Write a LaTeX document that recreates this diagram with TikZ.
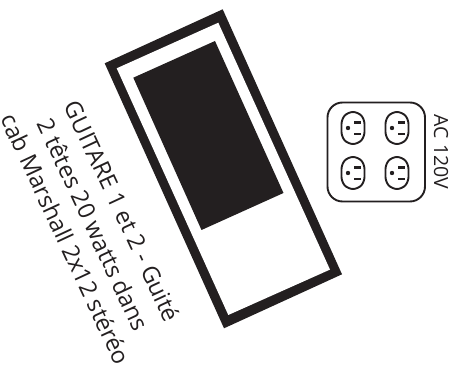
\documentclass[tikz,border=0pt]{standalone}
\usepackage{fontspec}
\setmainfont{Open Sans}
\definecolor{ink}{RGB}{35,31,32}
\tikzset{
 lbl/.style={font=\fontsize{23.5}{23.5}\selectfont,text=ink,inner sep=0pt,rotate=-65,anchor=center},
 socket/.style={draw=ink,line width=1.9pt,fill=white}
}
\newcommand{\outlet}[3]{%
 \begin{scope}[shift={(#1,#2)}]
  \node[minimum size=0pt,inner sep=0pt] (#3) at (0,0) {};
  \draw[socket,rounded corners=5pt] (-11.5,-9) -- (-5,-16) -- (5,-16) -- (11.5,-9) -- (11.5,9) -- (5,16) -- (-5,16) -- (-11.5,9) -- cycle;
  \fill[ink] (-5,0) circle (2.2);
  \fill[ink] (0.5,-6.5) rectangle (8,-4);
  \fill[ink] (0.5,5) rectangle (8,7.5);
 \end{scope}}
\begin{document}
\begin{tikzpicture}[x=1pt,y=-1pt]
\useasboundingbox (0,0) rectangle (459,371);
\fill[white] (0,0) rectangle (459,371);
\fill[ink] (104.7,63.3) -- (222.7,9.3) -- (342,274.3) -- (224,328.3) -- cycle;
\fill[white] (116.7,68.3) -- (218.3,22.7) -- (330,269.6) -- (228.3,315) -- cycle;
\fill[ink] (133.3,77.7) -- (215,41) -- (283.5,193) -- (201.5,230) -- cycle;
\node[lbl] (l1) at (122.5,211) {GUITARE 1 et 2 - Guité};
\node[lbl] (l2) at (93.5,224.5) {2 têtes 20 watts dans};
\node[lbl] (l3) at (66,239) {cab Marshall 2x12 stéréo};
\draw[ink,line width=1.9pt,rounded corners=15pt] (327.5,102.5) rectangle (425,201.5);
\outlet{353}{128}{a}
\outlet{397}{128}{b}
\outlet{353}{173}{c}
\outlet{397}{173}{d}
\node[font=\fontsize{19.5}{19.5}\selectfont,text=ink,rotate=-90,inner sep=0pt] (ac) at (441,152) {AC 120V};
\end{tikzpicture}
\end{document}
